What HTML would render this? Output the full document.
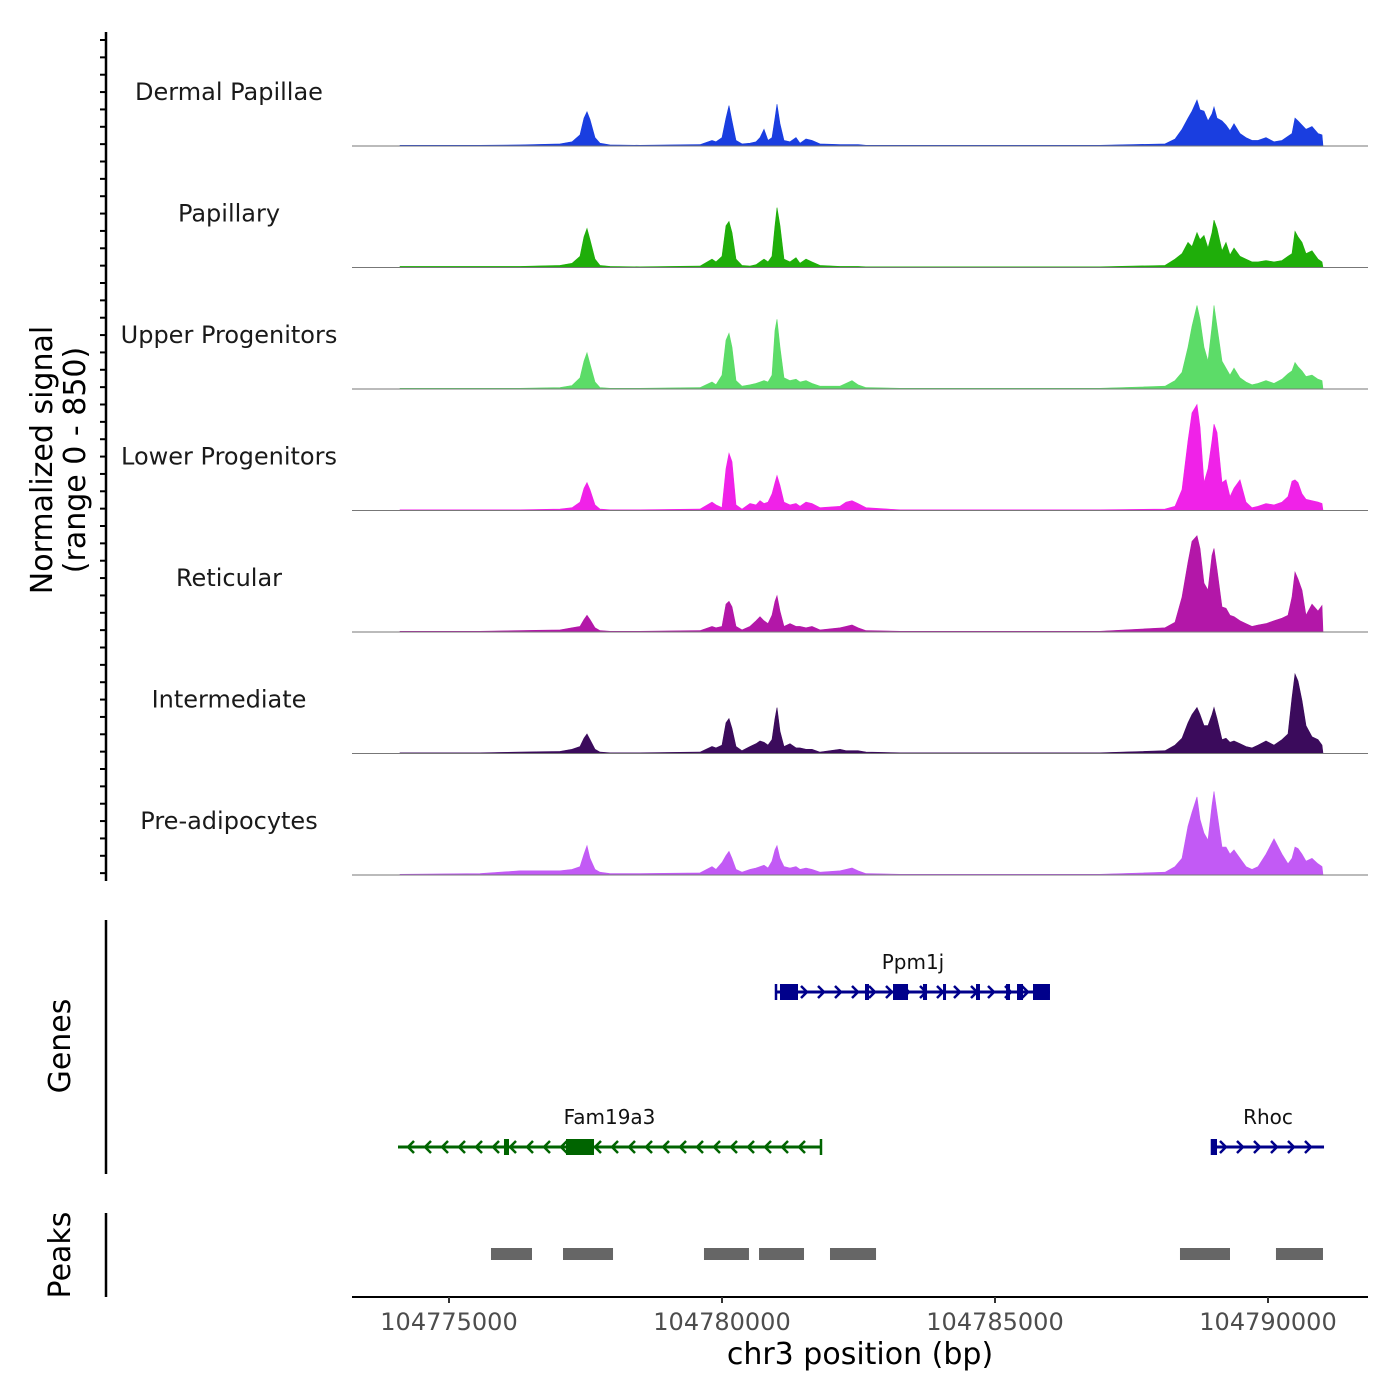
<!DOCTYPE html>
<html><head><meta charset="utf-8"><style>
html,body{margin:0;padding:0;background:#fff;}
svg{display:block;font-family:"DejaVu Sans","Liberation Sans",sans-serif;}
</style></head><body>
<svg id="chart" width="1400" height="1400" viewBox="0 0 1400 1400" xmlns="http://www.w3.org/2000/svg">
<g id="tracks"></g>
<g id="genes"></g>
<g id="peaks"></g>
<g id="axes"></g>
</svg>
<script>
const positions = [104774103,104775568,104776300,104777033,104777253,104777399,104777473,104777527,104777582,104777674,104777766,104777949,104778498,104779597,104779817,104779890,104780000,104780073,104780128,104780183,104780256,104780366,104780513,104780623,104780696,104780769,104780842,104780916,104780971,104781007,104781062,104781136,104781245,104781355,104781429,104781538,104781648,104781795,104782161,104782271,104782381,104782491,104782637,104783260,104785092,104786923,104788113,104788297,104788425,104788535,104788608,104788700,104788755,104788828,104788901,104788974,104789011,104789066,104789157,104789231,104789304,104789377,104789487,104789597,104789707,104789817,104789963,104790110,104790256,104790366,104790439,104790494,104790549,104790622,104790696,104790806,104790916,104790989];
const trackNames = ["Dermal Papillae","Papillary","Upper Progenitors","Lower Progenitors","Reticular","Intermediate","Pre-adipocytes"];
const trackColors = ["#1a3ee0","#1fae0a","#5cdc68","#f022e8","#b317a8","#3b0b5c","#c25af5"];
const dermalPapillae = [5,5,8,15,30,80,200,245,190,60,20,8,5,10,40,30,60,200,290,180,40,15,20,30,60,120,40,60,200,300,160,40,30,60,20,50,40,15,10,10,10,10,5,5,5,5,15,50,120,200,250,330,260,250,180,230,280,200,180,150,110,160,90,60,40,40,60,30,40,70,90,200,180,150,120,140,90,80];
const papillary = [8,8,8,15,30,80,220,280,200,60,15,8,5,10,60,40,80,300,330,250,60,15,10,20,40,60,40,80,300,430,300,60,40,70,30,60,40,15,8,8,8,8,5,5,5,5,15,60,100,180,150,250,200,230,140,250,340,280,120,180,90,140,80,60,40,40,50,40,50,80,100,260,220,180,100,120,60,40];
const upperProgenitors = [5,5,5,10,25,80,200,260,180,50,10,5,5,10,50,30,100,350,400,300,60,20,30,40,50,60,50,100,420,500,300,80,60,70,50,60,40,20,20,40,60,30,10,5,5,5,20,60,120,300,450,600,500,300,200,450,600,450,200,150,100,150,80,50,30,40,60,40,70,110,130,190,160,130,90,100,70,60];
const lowerProgenitors = [5,5,5,10,20,60,160,200,150,40,10,5,5,10,60,40,20,300,410,350,40,10,50,40,70,50,60,120,200,250,180,60,40,50,30,60,50,20,30,60,70,50,20,5,5,5,10,30,150,500,700,760,600,200,300,500,620,560,200,220,100,160,220,60,20,30,50,40,60,100,210,220,200,120,80,70,60,50];
const reticular = [5,5,10,15,30,40,90,120,90,30,10,5,5,10,40,30,40,200,220,180,40,15,40,80,110,80,60,120,220,260,150,40,60,40,40,30,40,15,30,40,50,30,10,5,5,5,30,70,250,500,650,690,600,350,300,550,600,450,180,170,120,110,80,60,40,50,60,80,100,120,250,430,380,300,120,200,150,190];
const intermediate = [5,5,10,15,30,50,110,140,100,30,10,5,5,10,50,40,60,220,250,180,50,20,50,70,90,80,60,100,250,330,160,50,70,40,40,30,30,10,30,20,20,20,10,5,5,5,20,60,110,220,280,330,280,200,200,280,330,250,100,110,80,90,70,50,40,60,90,60,100,140,400,570,520,380,200,120,100,60];
const preAdipocytes = [5,10,30,30,40,60,150,210,120,40,20,10,10,15,60,40,90,140,170,120,40,20,40,50,60,70,50,100,180,210,120,60,50,60,40,50,40,20,30,40,50,30,10,5,5,5,20,60,120,350,450,560,400,300,250,500,600,450,200,200,150,180,120,60,40,60,150,260,150,80,120,200,190,150,100,120,80,60];
const signalSeries = [dermalPapillae,papillary,upperProgenitors,lowerProgenitors,reticular,intermediate,preAdipocytes];
const xTicks = [104775000,104780000,104785000,104790000];
const xTickLabels = ["104775000","104780000","104785000","104790000"];
const geneNames = ["Ppm1j","Fam19a3","Rhoc"];
const geneStarts = [104780989,104774066,104788974];
const geneEnds = [104786007,104781813,104791026];
const geneStrands = ["+","-","+"];
const geneRows = [0,1,1];
const geneColors = ["#00008b","#006400","#00008b"];
const exonGene = [0,0,0,0,0,0,0,0,0,1,1,2];
const exonStarts = [104781062,104782619,104783132,104783681,104784048,104784652,104785202,104785403,104785696,104776007,104777143,104788993];
const exonEnds = [104781392,104782692,104783407,104783755,104784103,104784725,104785275,104785513,104786007,104776099,104777656,104789066];
const peakStarts = [104775769,104777088,104779670,104780678,104781978,104788388,104790146];
const peakEnds = [104776520,104778004,104780494,104781502,104782821,104789304,104791007];

const NS="http://www.w3.org/2000/svg";
function mk(tag,attrs,parent){const e=document.createElementNS(NS,tag);for(const k in attrs)e.setAttribute(k,attrs[k]);parent.appendChild(e);return e;}
const X0=352,X1=1368;
function xs(bp){return 449+(bp-104775000)*(273/5000);}
const trackH=121.5, base0=146, yMax=850;
function ys(v,i){return base0+i*trackH - v*(trackH-3)/yMax;}

const tg=document.getElementById('tracks');
signalSeries.forEach((vals,i)=>{
  const b=base0+i*trackH;
  let d="M"+xs(positions[0])+","+b;
  vals.forEach((v,j)=>{d+=" L"+xs(positions[j]).toFixed(1)+","+ys(v,i).toFixed(1);});
  d+=" L"+(xs(positions[positions.length-1])+1).toFixed(1)+","+b+" Z";
  const p=mk('path',{d:d,fill:trackColors[i],stroke:trackColors[i],'stroke-width':0.6},tg);
  
  
  const l=mk('line',{x1:X0,x2:X1,y1:b,y2:b,stroke:'#777','stroke-width':1},tg);
  
  
  const t=mk('text',{x:229,y:b-46,'text-anchor':'middle','font-size':24,fill:'#1a1a1a'},tg);
  t.textContent=trackNames[i];
  
  
});

const gg=document.getElementById('genes');
const rowY=[992,1147];
geneNames.forEach((n,i)=>{
  const y=rowY[geneRows[i]], c=geneColors[i];
  const x1=xs(geneStarts[i]), x2=xs(geneEnds[i]);
  const ln=mk('line',{x1:x1,x2:x2,y1:y,y2:y,stroke:c,'stroke-width':3},gg);
  
  
  const endX = geneStrands[i]=="+"?x1:x2;
  mk('line',{x1:endX,x2:endX,y1:y-8,y2:y+8,stroke:c,'stroke-width':2.5},gg);
  for(let x=x1+12;x<x2-6;x+=17){
    const dir=geneStrands[i]=="+"?1:-1;
    mk('polyline',{points:(x-4*dir)+","+(y-6)+" "+(x+2*dir)+","+y+" "+(x-4*dir)+","+(y+6),fill:'none',stroke:c,'stroke-width':2.5},gg);
  }
  const t=mk('text',{x:(x1+x2)/2,y:y-23,'text-anchor':'middle','font-size':20,fill:'#111'},gg);
  t.textContent=n;
  
  
});
exonStarts.forEach((s,k)=>{
  const gi=exonGene[k], y=rowY[geneRows[gi]];
  const x1=xs(s), x2=xs(exonEnds[k]);
  const r=mk('rect',{x:x1,y:y-8,width:Math.max(3,x2-x1),height:16,fill:geneColors[gi]},gg);
  
  
});

const pg=document.getElementById('peaks');
peakStarts.forEach((s,k)=>{
  const r=mk('rect',{x:xs(s),y:1248,width:xs(peakEnds[k])-xs(s),height:12,fill:'#666'},pg);
  
  
});

const ag=document.getElementById('axes');
mk('line',{x1:X0,x2:X1,y1:1297,y2:1297,stroke:'#000','stroke-width':2},ag);
xTicks.forEach((v,k)=>{
  const x=xs(v);
  mk('line',{x1:x,x2:x,y1:1297,y2:1303,stroke:'#333','stroke-width':2},ag);
  const t=mk('text',{x:x,y:1330,'text-anchor':'middle','font-size':24,fill:'#4d4d4d'},ag);
  t.textContent=xTickLabels[k];
  
  
});
const xt=mk('text',{x:860,y:1364,'text-anchor':'middle','font-size':30,fill:'#000'},ag);
xt.textContent="chr3 position (bp)";


mk('line',{x1:106,x2:106,y1:32,y2:881,stroke:'#000','stroke-width':2.5},ag);
for(let y=40;y<=880;y+=trackH/7){mk('line',{x1:100,x2:106,y1:y,y2:y,stroke:'#000','stroke-width':2},ag);}
const yt=mk('text',{transform:'translate(52,460) rotate(-90)','text-anchor':'middle','font-size':30,fill:'#000'},ag);
yt.textContent="Normalized signal";


const yt2=mk('text',{transform:'translate(85,460) rotate(-90)','text-anchor':'middle','font-size':30,fill:'#000'},ag);
yt2.textContent="(range 0 - 850)";


mk('line',{x1:106,x2:106,y1:920,y2:1174,stroke:'#000','stroke-width':2.5},ag);
const gt=mk('text',{transform:'translate(70,1046) rotate(-90)','text-anchor':'middle','font-size':30,fill:'#000'},ag);
gt.textContent="Genes";


mk('line',{x1:106,x2:106,y1:1213,y2:1297,stroke:'#000','stroke-width':2.5},ag);
const pt=mk('text',{transform:'translate(70,1255) rotate(-90)','text-anchor':'middle','font-size':30,fill:'#000'},ag);
pt.textContent="Peaks";


</script>
</body></html>
